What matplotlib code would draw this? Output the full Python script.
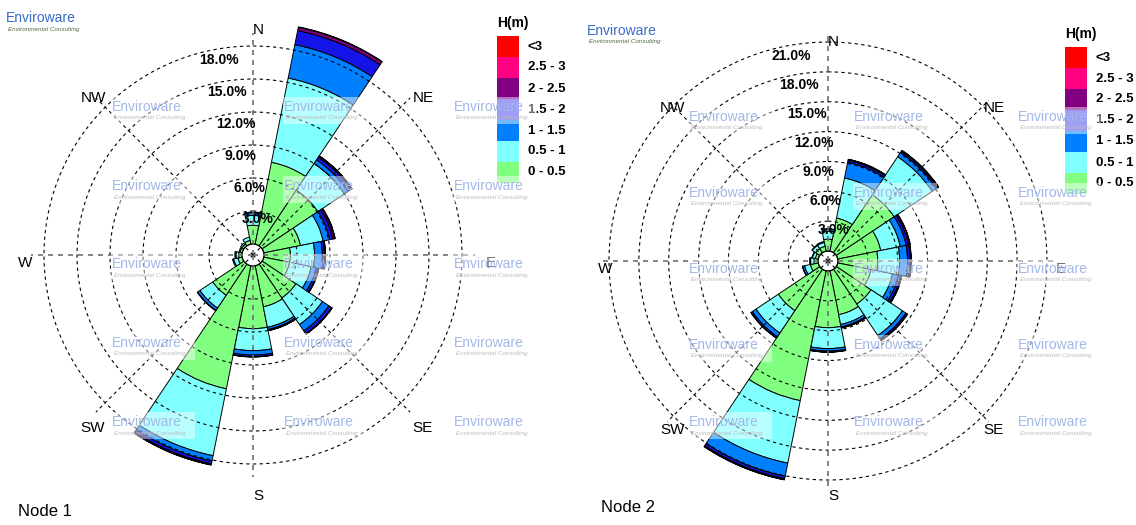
import numpy as np
import matplotlib
matplotlib.use('Agg')
import matplotlib.pyplot as plt
from matplotlib.patches import Rectangle
from matplotlib.transforms import offset_copy

plt.rcParams['font.family'] = ['Liberation Sans', 'DejaVu Sans']

W, H = 1136, 525

directions = ['N', 'NNE', 'NE', 'ENE', 'E', 'ESE', 'SE', 'SSE',
              'S', 'SSW', 'SW', 'WSW', 'W', 'WNW', 'NW', 'NNW']
compass = ['N', 'NE', 'E', 'SE', 'S', 'SW', 'W', 'NW']
height_bins = ['0 - 0.5', '0.5 - 1', '1 - 1.5', '1.5 - 2', '2 - 2.5', '2.5 - 3', '<3']
bin_colors = ['#80FF80', '#80FFFF', '#0080FF', '#1414E6', '#800080', '#FF0080', '#FF0000']
legend_colors = ['#80FF80', '#80FFFF', '#0080FF', '#5050F0', '#800080', '#FF0080', '#FF0000']

# frequency (%) per wave height class (rows) and direction (columns)
node1_freq = [
    [1.7, 7.6, 6.1, 3.4, 2.4, 2.4, 3.7, 3.8, 5.7, 11.4, 3.4, 0.4, 0.3, 0.2, 0.2, 0.35],
    [0.9, 7.8, 2.9, 2.1, 2.2, 2.0, 2.9, 1.9, 2.0, 6.2, 1.4, 0.4, 0.25, 0.1, 0.15, 0.3],
    [0.25, 3.1, 0.4, 0.6, 0.7, 0.45, 0.7, 0.2, 0.4, 0.5, 0.25, 0.1, 0.1, 0.0, 0.0, 0.0],
    [0.05, 1.3, 0.3, 0.3, 0.2, 0.2, 0.3, 0.1, 0.15, 0.25, 0.05, 0.0, 0.0, 0.0, 0.0, 0.0],
    [0.0, 0.3, 0.1, 0.15, 0.08, 0.05, 0.05, 0.02, 0.03, 0.1, 0.0, 0.0, 0.0, 0.0, 0.0, 0.0],
    [0.0, 0.05, 0.02, 0.05, 0.02, 0.01, 0.01, 0.0, 0.0, 0.02, 0.0, 0.0, 0.0, 0.0, 0.0, 0.0],
    [0.0, 0.0, 0.03, 0.02, 0.0, 0.0, 0.0, 0.0, 0.0, 0.0, 0.0, 0.0, 0.0, 0.0, 0.0, 0.0],
]
node2_freq = [
    [1.2, 3.4, 7.0, 4.4, 4.0, 3.4, 4.2, 4.5, 5.7, 13.3, 5.0, 0.8, 0.4, 0.3, 0.5, 0.5],
    [0.8, 4.1, 4.6, 2.0, 2.2, 2.2, 3.8, 1.0, 2.1, 6.4, 2.7, 0.6, 0.35, 0.3, 0.4, 0.4],
    [0.2, 1.6, 0.5, 0.6, 0.8, 0.6, 0.4, 0.25, 0.25, 1.35, 0.45, 0.2, 0.1, 0.05, 0.05, 0.1],
    [0.03, 0.2, 0.15, 0.25, 0.25, 0.25, 0.15, 0.1, 0.1, 0.25, 0.15, 0.02, 0.0, 0.0, 0.0, 0.0],
    [0.0, 0.1, 0.1, 0.15, 0.1, 0.1, 0.05, 0.02, 0.02, 0.1, 0.03, 0.0, 0.0, 0.0, 0.0, 0.0],
    [0.0, 0.02, 0.02, 0.03, 0.03, 0.02, 0.01, 0.0, 0.0, 0.02, 0.0, 0.0, 0.0, 0.0, 0.0, 0.0],
    [0.0, 0.0, 0.0, 0.0, 0.0, 0.0, 0.0, 0.0, 0.0, 0.0, 0.0, 0.0, 0.0, 0.0, 0.0, 0.0],
]
node1_rings = [3, 6, 9, 12, 15, 18]
node2_rings = [3, 6, 9, 12, 15, 18, 21]


def fx(x):
    return x / W


def fy(y):
    return 1 - y / H


fig = plt.figure(figsize=(W / 100, H / 100), dpi=100)


def draw_rose(cx, cy, R, freq, rings, spoke_r, label_r, title, title_xy):
    ax = fig.add_axes([fx(cx - R), fy(cy + R), 2 * R / W, 2 * R / H], projection='polar')
    ax.set_theta_zero_location('N')
    ax.set_theta_direction(-1)

    theta = np.deg2rad(np.arange(len(directions)) * 22.5)
    width = np.deg2rad(22.5)
    bottom = np.zeros(len(directions))
    for vals, color in zip(freq, bin_colors):
        vals = np.array(vals, float)
        m = vals > 0
        bars = ax.bar(theta[m], vals[m], width=width, bottom=bottom[m], color=color,
                      edgecolor='black', linewidth=0.7, zorder=2)
        for b in bars:
            b.set_clip_on(False)
        bottom += vals

    ax.set_ylim(0, rings[-1])
    ax.set_rorigin(-1)
    ax.set_xticks([])
    ax.set_yticks([])
    ax.grid(False)
    ax.spines['polar'].set_visible(False)

    # dashed rings
    t = np.linspace(0, 2 * np.pi, 400)
    for v in rings:
        ax.plot(t, np.full_like(t, v), color='black', lw=0.8, ls=(0, (3, 3)),
                zorder=3, clip_on=False)
        ax.text(np.deg2rad(345), v, f'{v:.1f}%', ha='left', va='top',
                fontsize=10, fontweight='bold', zorder=4)

    # spokes and compass labels
    trans = offset_copy(ax.transData, fig=fig, x=5, y=-8, units='dots')
    for i, name in enumerate(compass):
        a = np.deg2rad(i * 45)
        main = i % 2 == 0
        ax.plot([a, a], [-1, spoke_r], color='#707070' if main else 'black',
                lw=1.2 if main else 0.8, ls=(0, (3, 3)), zorder=3, clip_on=False)
        ax.text(a, label_r, name, transform=trans, ha='center', va='center',
                fontsize=11, clip_on=False, zorder=5)

    fig.text(fx(title_xy[0]), fy(title_xy[1]), title, fontsize=12,
             ha='left', va='center')
    return ax


def draw_legend(x, y):
    fig.text(fx(x), fy(y - 13), 'H(m)', fontsize=10, fontweight='bold',
             ha='left', va='center')
    for k, (lab, col) in enumerate(zip(height_bins[::-1], legend_colors[::-1])):
        top = y + k * 21
        fig.add_artist(Rectangle((fx(x), fy(top + 21)), 22 / W, 21 / H,
                                 transform=fig.transFigure, facecolor=col,
                                 edgecolor='none'))
        fig.text(fx(x + 31), fy(top + 10.5), lab, fontsize=9.5,
                 fontweight='bold', ha='left', va='center')


def watermark(cx, cy, strong=False):
    if not strong:
        fig.add_artist(Rectangle((fx(cx - 36), fy(cy + 17)), 84 / W, 27 / H,
                                 transform=fig.transFigure, facecolor='white',
                                 edgecolor='none', alpha=0.45, zorder=8))
    fig.text(fx(cx), fy(cy), 'Enviroware', fontsize=10,
             color='#3A6BC8' if strong else '#A3B8E8', ha='center', va='center',
             zorder=9)
    fig.text(fx(cx - 33), fy(cy + 11), 'Environmental Consulting', fontsize=4.5,
             style='italic', color='#4F6B3A' if strong else '#BBBBBB',
             ha='left', va='center', zorder=9)


draw_rose(253, 255, 209, node1_freq, node1_rings, 19.2, 20.2, 'Node 1', (18, 512))
draw_rose(828, 261, 219, node2_freq, node2_rings, 21.8, 21.85, 'Node 2', (601, 508))

draw_legend(497, 36)
draw_legend(1065, 47)

for cx in [147, 319, 489]:
    for cy in [107, 186, 264, 343, 422]:
        watermark(cx, cy)
for cx in [724, 889, 1053]:
    for cy in [117, 193, 269, 345, 422]:
        watermark(cx, cy)
watermark(41, 18, strong=True)
watermark(622, 31, strong=True)

fig.savefig('out.png', dpi=100)
